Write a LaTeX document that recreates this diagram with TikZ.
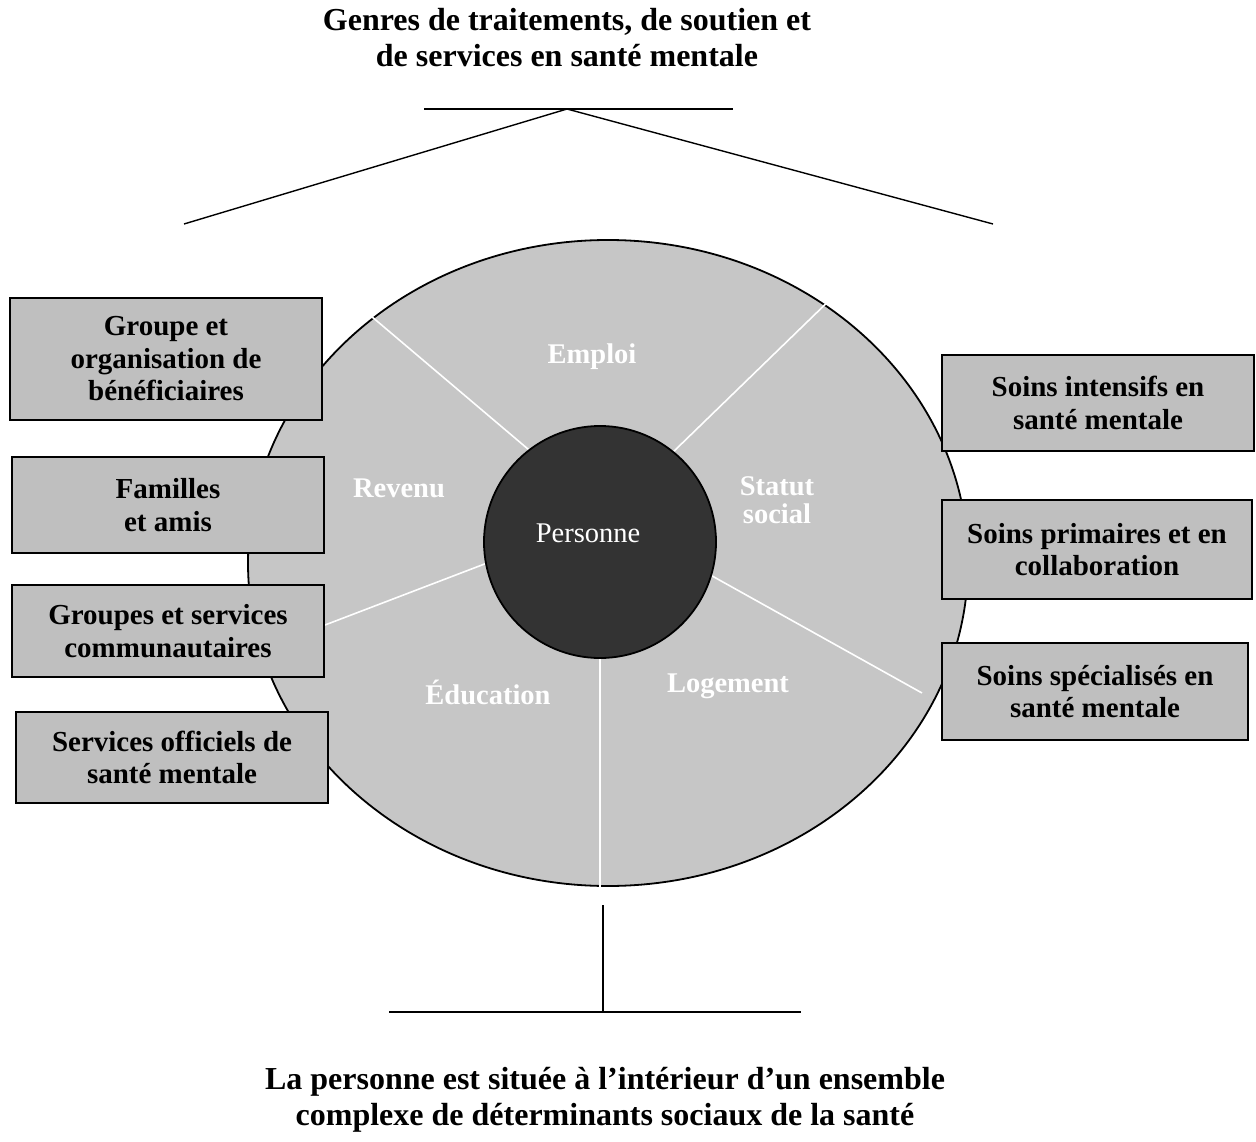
\documentclass[tikz,border=0pt]{standalone}
\usepackage{fontspec}
\setmainfont{Liberation Serif}
\usetikzlibrary{shapes.geometric}
\definecolor{boxgray}{RGB}{191,191,191}
\definecolor{discgray}{RGB}{198,198,198}
\definecolor{coregray}{RGB}{51,51,51}
\tikzset{
  box/.style={draw=black, line width=1.8pt, fill=boxgray, align=center, inner sep=0pt,
    font=\fontsize{29}{32.5}\selectfont\bfseries},
  seg/.style={white, line width=1.6pt},
  disclabel/.style={text=white, align=center, font=\fontsize{28.5}{28}\selectfont\bfseries},
  title/.style={align=center, font=\fontsize{32}{36}\selectfont\bfseries},
  thin/.style={black, line width=1.4pt}
}
\begin{document}
\begin{tikzpicture}[x=1pt,y=-1pt]
\useasboundingbox (0,0) rectangle (1256,1142);
% titles
\node[title] (top) at (567,38) {Genres de traitements, de soutien et\\de services en santé mentale};
\node[title] (bot) at (605,1100) {La personne est située à l’intérieur d’un ensemble\\complexe de déterminants sociaux de la santé};
% top roof
\coordinate (hl) at (424,109);
\coordinate (hr) at (733,109);
\coordinate (apex) at (567,109);
\coordinate (rl) at (184,224);
\coordinate (rr) at (993,224);
\draw[thin] (hl) -- (hr);
\draw[thin] (rl) -- (apex) -- (rr);
% bottom stem
\coordinate (st) at (603,905);
\coordinate (sb) at (603,1012);
\coordinate (bl) at (389,1012);
\coordinate (br) at (801,1012);
\draw[thin] (st) -- (sb);
\draw[thin] (bl) -- (br);
% disc
\node[ellipse, draw=black, line width=1.8pt, fill=discgray, minimum width=720pt, minimum height=646pt, inner sep=0pt] (disc) at (608,563) {};
% segment lines
\coordinate (a1) at (358,305); \coordinate (b1) at (535,455);
\coordinate (a2) at (838,292); \coordinate (b2) at (670,455);
\coordinate (a3) at (922,693); \coordinate (b3) at (705,572);
\coordinate (a4) at (600,887); \coordinate (b4) at (600,640);
\coordinate (a5) at (325,625); \coordinate (b5) at (495,560);
\foreach \i in {1,...,5}{\draw[seg] (a\i) -- (b\i);}
% core
\node[circle, draw=black, line width=1.8pt, fill=coregray, minimum size=232pt, inner sep=0pt] (core) at (600,542) {};
\node[text=white, font=\fontsize{28.5}{28}\selectfont] (pers) at (588,533) {Personne};
% disc labels
\node[disclabel] (emploi) at (592,357) {Emploi};
\node[disclabel] (revenu) at (399,488) {Revenu};
\node[disclabel] (statut) at (777,500) {Statut\\social};
\node[disclabel] (educ) at (488,692) {Éducation};
\node[disclabel] (loge) at (728,686) {Logement};
% left boxes
\node[box, minimum width=312pt, minimum height=122pt] (g1) at (166,359) {Groupe et\\organisation de\\bénéficiaires};
\node[box, minimum width=312pt, minimum height=96pt] (g2) at (168,505) {Familles\\et amis};
\node[box, minimum width=312pt, minimum height=92pt] (g3) at (168,631) {Groupes et services\\communautaires};
\node[box, minimum width=312pt, minimum height=91pt] (g4) at (172,757.5) {Services officiels de\\santé mentale};
% right boxes
\node[box, minimum width=312pt, minimum height=96pt] (s1) at (1098,403) {Soins intensifs en\\santé mentale};
\node[box, minimum width=310pt, minimum height=99pt] (s2) at (1097,549.5) {Soins primaires et en\\collaboration};
\node[box, minimum width=306pt, minimum height=97pt] (s3) at (1095,691.5) {Soins spécialisés en\\santé mentale};
\end{tikzpicture}
\end{document}
